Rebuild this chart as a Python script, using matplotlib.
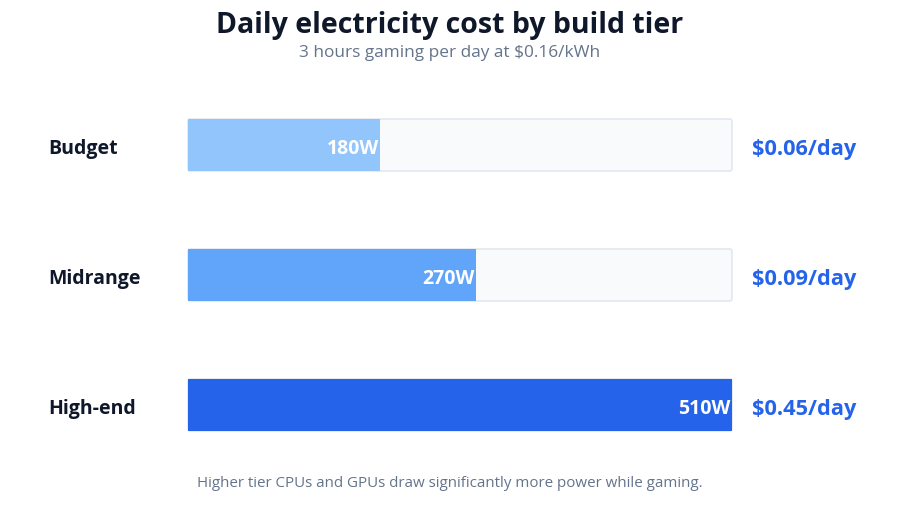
import matplotlib.pyplot as plt
from matplotlib.patches import FancyBboxPatch

plt.rcParams['font.family'] = ['Open Sans', 'DejaVu Sans']

# data
tiers = ['Budget', 'Midrange', 'High-end']
watts = [180, 270, 510]
cost_labels = ['$0.06/day', '$0.09/day', '$0.45/day']
bar_colors = ['#93c5fd', '#60a5fa', '#2563eb']
max_watts = 510

fig = plt.figure(figsize=(9, 5.06), dpi=100)
ax = fig.add_axes([188 / 900, 1 - 471 / 506, 544 / 900, 390 / 506])
ax.set_xlim(0, max_watts)
ax.set_ylim(2.5, -0.5)
ax.axis('off')

bar_h = 0.40
text_dy = 0.025  # nudge text a bit lower
for i, (tier, w, cost, col) in enumerate(zip(tiers, watts, cost_labels, bar_colors)):
    # background track
    track = FancyBboxPatch((0, i - bar_h / 2), max_watts, bar_h,
                           boxstyle='round,pad=0,rounding_size=2',
                           mutation_aspect=bar_h / 52 * 544 / max_watts,
                           facecolor='#f8fafc', edgecolor='#e2e8f0', linewidth=1.2,
                           clip_on=False)
    ax.add_patch(track)
    ax.barh(i, w, height=bar_h, color=col, edgecolor='none', zorder=2)
    ax.text(w - 1, i + text_dy, f'{w}W', ha='right', va='center', color='white',
            fontsize=14, fontweight='bold', zorder=3)
    # category label on the left
    ax.text(-140 * max_watts / 544, i + text_dy, tier, ha='left', va='center',
            fontsize=14, fontweight='bold', color='#0f172a', clip_on=False)
    # cost label on the right
    ax.text(max_watts + 19, i + text_dy, cost, ha='left', va='center', color='#2563eb',
            fontsize=15.7, fontweight='bold', clip_on=False)

fig.text(0.5, 1 - 26 / 506, 'Daily electricity cost by build tier', ha='center', va='center',
         fontsize=20.5, fontweight='bold', color='#0f172a')
fig.text(0.5, 1 - 53 / 506, '3 hours gaming per day at $0.16/kWh', ha='center', va='center',
         fontsize=12.4, color='#64748b')
fig.text(450 / 900, 1 - 484 / 506,
         'Higher tier CPUs and GPUs draw significantly more power while gaming.',
         ha='center', va='center', fontsize=10.9, color='#64748b')

fig.savefig('out.png', dpi=100, facecolor='white')
